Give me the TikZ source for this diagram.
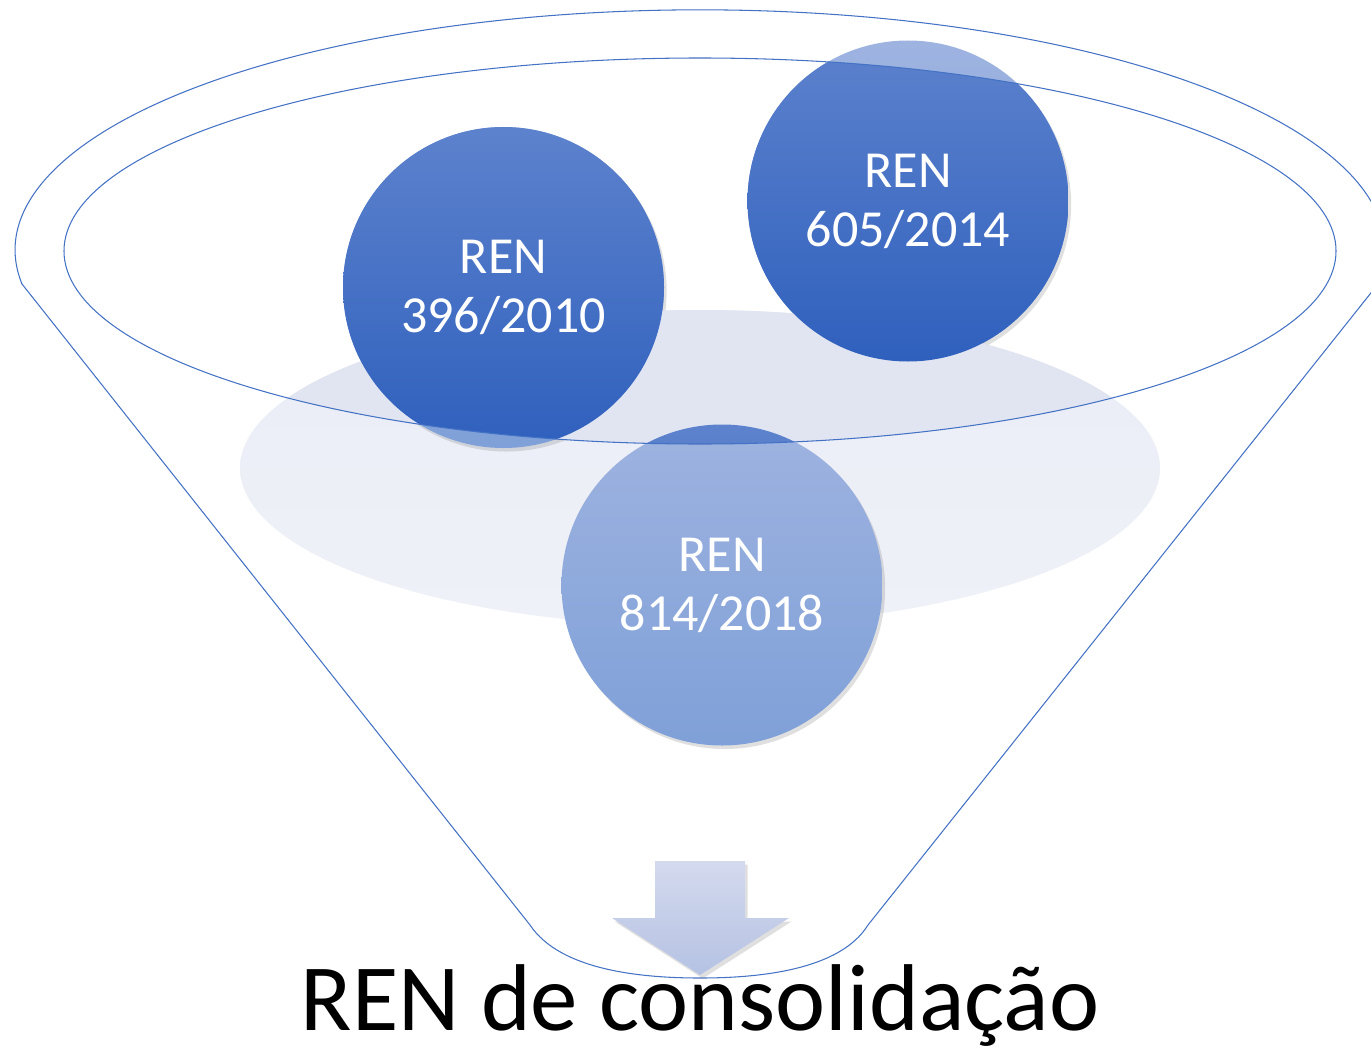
\documentclass[tikz,border=0pt]{standalone}
\usepackage{fontspec}
\setmainfont{Carlito}
\usepackage{tikz}
\usetikzlibrary{shapes, arrows, shadows}
\definecolor{linha}{HTML}{4472C4}
\definecolor{escurotopo}{HTML}{5D82CD}
\definecolor{escurobase}{HTML}{2F60BD}
\definecolor{clarotopo}{HTML}{9EB3E0}
\definecolor{clarobase}{HTML}{7FA0D8}
\definecolor{fundotopo}{HTML}{EAEDF6}
\definecolor{fundobase}{HTML}{EFF1F8}
\definecolor{fundoescuro}{HTML}{E1E5F2}
\definecolor{setatopo}{HTML}{D4DAEE}
\definecolor{setabase}{HTML}{B5C2E3}

\begin{document}
\begin{tikzpicture}[x=0.02cm, y=-0.02cm]
            \tikzstyle{renclaro}=[top color=clarotopo, bottom color=clarobase]
            \tikzstyle{renescuro}=[top color=escurotopo, bottom color=escurobase]
            \tikzstyle{sombra}=[drop shadow={opacity=0.25, shadow xshift=1.5pt, shadow yshift=-2pt}]
            \tikzstyle{ren}=[circle, minimum size=6.42cm, inner sep=0pt, align=center, text=white, font=\fontsize{29.6}{33.6}\selectfont]
            \tikzstyle{funil}=[draw=linha, line width=0.6pt]
            \clip (0,0) rectangle (1371,1054);
            \coordinate (p396) at (503.5,287.5);
            \coordinate (p605) at (908,201);
            \coordinate (p814) at (722,585);
            \shade[top color=fundotopo, bottom color=fundobase] (700,468) ellipse[x radius=460, y radius=158];
            \foreach \p in {p396, p605, p814}
                \shade[renclaro, sombra] (\p) circle[radius=160.5];
            \begin{scope}
                \clip (700,251) ellipse[x radius=636, y radius=193];
                \fill[fundoescuro] (700,468) ellipse[x radius=460, y radius=158];
                \foreach \p in {p396, p605, p814}
                    \shade[renescuro] (\p) circle[radius=160.5];
            \end{scope}
            \draw[funil] (22,284) -- (530,925) .. controls (560,970) and (640,978) .. (700,978)
                .. controls (760,978) and (840,970) .. (868,925) -- (1378,284)
                arc[start angle=8.19, end angle=-188.19, x radius=685, y radius=240] -- cycle;
            \draw[funil] (700,251) ellipse[x radius=636, y radius=193];
            \shade[top color=setatopo, bottom color=setabase, sombra] (655,861) -- (745,861) -- (745,918) -- (789,918)
                -- (700,975) -- (612,918) -- (655,918) -- cycle;
            \node[ren] (c396) at (p396) {REN\\396/2010};
            \node[ren] (c605) at (p605) {REN\\605/2014};
            \node[ren] (c814) at (p814) {REN\\814/2018};
            \node[anchor=base, inner sep=0pt, font=\fontsize{54}{60}\selectfont] (titulo) at (700,1030) {REN de consolidação};
\end{tikzpicture}
\end{document}
